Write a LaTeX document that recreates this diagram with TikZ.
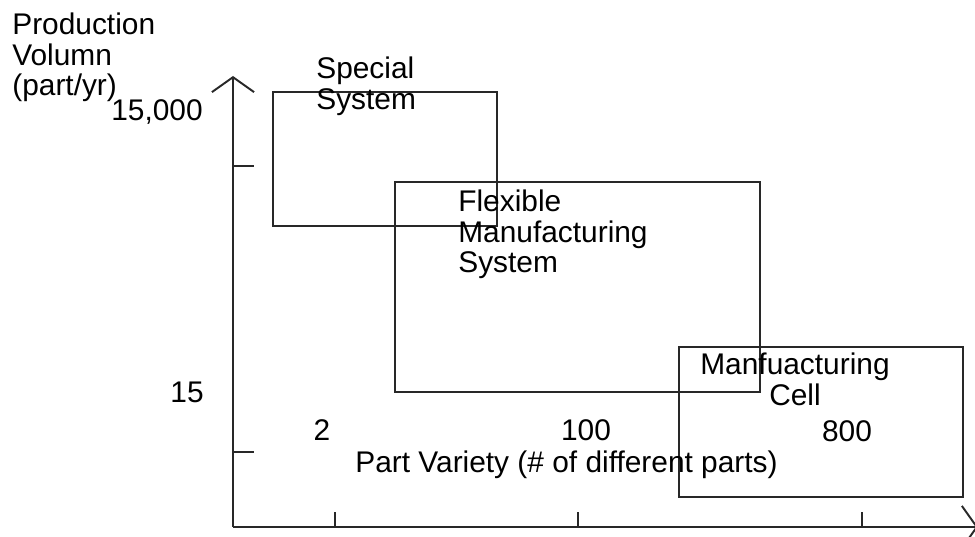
\documentclass[tikz,border=0pt]{standalone}
\usepackage{fontspec}
\setmainfont{Liberation Sans}
\usetikzlibrary{arrows.meta, positioning}
\definecolor{linegray}{RGB}{40,40,40}

\begin{document}
\begin{tikzpicture}[
  x=0.02cm, y=-0.02cm,
  axis/.style={
    line width=1.1pt,
    draw=linegray,
    -{Straight Barb[length=8.5pt, width=24pt, line width=1.1pt]}
  },
  tick/.style={line width=1.1pt, draw=linegray},
  region/.style={line width=1.1pt, draw=linegray},
  label/.style={inner sep=0pt, font=\fontsize{17}{17.3}\selectfont, align=left},
  num/.style={inner sep=0pt, font=\fontsize{17}{17.3}\selectfont}
]
\useasboundingbox (0,0) rectangle (975,537);

% axes
\coordinate (origin) at (233,527);
\coordinate (ytip) at (233,76);
\coordinate (xtip) at (978,527);
\draw[axis] (origin) -- (ytip);
\draw[axis] (origin) -- (xtip);
\foreach \y in {166,452}
  \draw[tick] (233,\y) -- (254,\y);
\foreach \x in {335,578,862}
  \draw[tick] (\x,527) -- (\x,512);

% regions
\draw[region] (273,92) rectangle (497,226);
\draw[region] (395,182) rectangle (760,392);
\draw[region] (679,347) rectangle (963,497);

% axis labels
\node[label, anchor=north west] (ylabel) at (12,13) {Production\\Volumn\\(part/yr)};
\node[num, anchor=base east] (yhigh) at (203,121) {15,000};
\node[num, anchor=base east] (ylow) at (204,402) {15};
\node[num, anchor=base] (xtwo) at (322,440) {2};
\node[num, anchor=base] (xhundred) at (586,440) {100};
\node[num, anchor=base] (xeight) at (847,441) {800};
\node[num, anchor=base west] (xlabel) at (355,472) {Part Variety (\# of different parts)};

% region labels
\node[label, anchor=north west] (special) at (316,57) {Special\\System};
\node[label, anchor=north west] (fms) at (458,190) {Flexible\\Manufacturing\\System};
\node[label, anchor=north, align=center] (cell) at (795,353) {Manfuacturing\\Cell};
\end{tikzpicture}
\end{document}
